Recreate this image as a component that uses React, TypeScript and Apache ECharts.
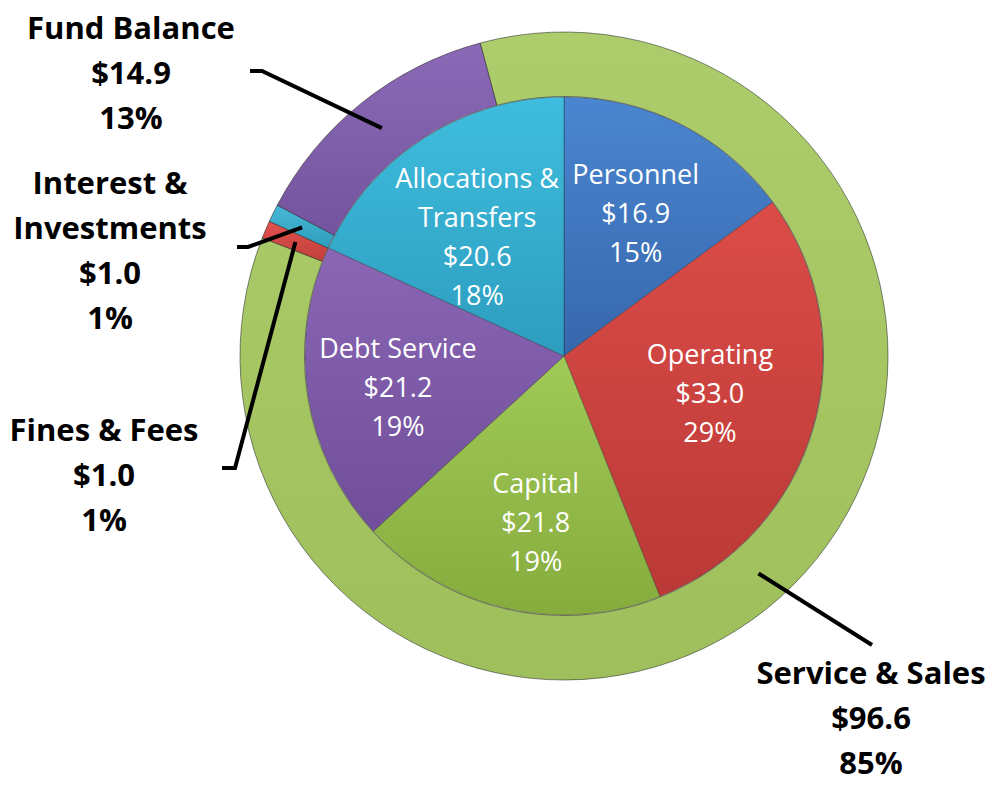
import React, { useEffect, useRef } from 'react';
import * as echarts from 'echarts';

// Inner pie: expenditures
const expenseNames = ['Personnel', 'Operating', 'Capital', 'Debt Service', 'Allocations & Transfers'];
const expenseValues = [16.9, 33.0, 21.8, 21.2, 20.6];
// Outer ring: revenues
const revenueNames = ['Service & Sales', 'Fines & Fees', 'Interest & Investments', 'Fund Balance'];
const revenueValues = [96.6, 1.0, 1.0, 14.9];

const expenseColors = [
  ['#4A86D0', '#3767AC'],
  ['#DB4C48', '#BA3936'],
  ['#A0C957', '#86AC3E'],
  ['#8A66B4', '#704E99'],
  ['#3FBDDE', '#2D9DBF'],
];
const revenueColors = [
  ['#ADCD6C', '#9FBF5C'],
  ['#E0524E', '#C23F3C'],
  ['#46B8D6', '#2F9CBC'],
  ['#8B69B7', '#74549E'],
];

const CX = 564;
const CY = 356;
const PIE_R = 259;
const RING_R0 = 259.5;
const RING_R1 = 324;
const INNER_START = 90;
const RING_START = 105;

const FONT = '"Open Sans", "Noto Sans", sans-serif';

function wrapName(n: string): string {
  return n.length > 16 ? n.replace(' & ', ' &\n') : n;
}

function midPoint(values: number[], index: number, start: number, r: number): number[] {
  const total = values.reduce((a, b) => a + b, 0);
  let cum = 0;
  for (let i = 0; i < index; i++) cum += values[i];
  const a = ((start - ((cum + values[index] / 2) / total) * 360) * Math.PI) / 180;
  return [CX + r * Math.cos(a), CY - r * Math.sin(a)];
}

function grad(c: string[]) {
  return {
    type: 'linear',
    x: 0,
    y: 0,
    x2: 0,
    y2: 1,
    colorStops: [
      { offset: 0, color: c[0] },
      { offset: 1, color: c[1] },
    ],
  };
}

// inner label nudges (layout only)
const innerNudge = [
  [0, -2],
  [-7, -7],
  [7, 10],
  [-9, 6],
  [-1, 14],
];

// outer label placements: text centre and label line elbow points
const outerTextPos = [
  [871, 717],
  [104, 474],
  [110, 249],
  [131, 72],
];
const outerElbows = [
  [[872, 645], [872, 645]],
  [[235, 468], [222, 468]],
  [[248, 247], [237, 247]],
  [[262, 71], [250, 71]],
];

const outerFormatter = (p: any) =>
  `${wrapName(p.name)}\n$${p.value.toFixed(1)}\n${Math.round(p.percent)}%`;

export default function App() {
  const ref = useRef<HTMLDivElement>(null);
  useEffect(() => {
    if (!ref.current) return;
    const chart = echarts.init(ref.current, null, { renderer: 'svg' });
    const option: any = {
      animation: false,
      backgroundColor: '#ffffff',
      series: [
        {
          type: 'pie',
          name: 'Revenues',
          z: 2,
          center: [CX, CY],
          radius: [RING_R0, RING_R1],
          startAngle: RING_START,
          clockwise: true,
          itemStyle: { borderColor: 'rgba(40,40,40,0.55)', borderWidth: 1 },
          label: { show: false },
          labelLine: { show: false },
          emphasis: { disabled: true },
          data: revenueNames.map((n, i) => ({
            name: n,
            value: revenueValues[i],
            itemStyle: { color: grad(revenueColors[i]) },
          })),
        },
        {
          type: 'pie',
          name: 'Expenditures',
          z: 2,
          center: [CX, CY],
          radius: [0, PIE_R],
          startAngle: INNER_START,
          clockwise: true,
          avoidLabelOverlap: false,
          itemStyle: { borderColor: 'rgba(30,30,30,0.35)', borderWidth: 1 },
          label: {
            show: true,
            position: 'inside',
            color: '#ffffff',
            fontFamily: FONT,
            fontSize: 27,
            lineHeight: 39,
            align: 'center',
            formatter: outerFormatter,
          },
          labelLayout: (params: any) => {
            const i = params.dataIndex;
            const pt = midPoint(expenseValues, i, INNER_START, 159);
            return {
              x: pt[0] + innerNudge[i][0],
              y: pt[1] + innerNudge[i][1],
              align: 'center',
              verticalAlign: 'middle',
            };
          },
          labelLine: { show: false },
          emphasis: { disabled: true },
          data: expenseNames.map((n, i) => ({
            name: n,
            value: expenseValues[i],
            itemStyle: { color: grad(expenseColors[i]) },
          })),
        },
        {
          // transparent overlay of the ring carrying its labels and leader lines on top
          type: 'pie',
          name: 'Revenue labels',
          z: 5,
          silent: true,
          center: [CX, CY],
          radius: [RING_R0, RING_R1],
          startAngle: RING_START,
          clockwise: true,
          avoidLabelOverlap: false,
          itemStyle: { color: 'rgba(0,0,0,0)', borderWidth: 0 },
          label: {
            show: true,
            position: 'outside',
            color: '#000',
            fontFamily: FONT,
            fontWeight: 'bold',
            fontSize: 31,
            lineHeight: 45,
            align: 'center',
            formatter: outerFormatter,
          },
          labelLine: { show: true, showAbove: true, lineStyle: { color: '#000', width: 4 }, smooth: false },
          labelLayout: (params: any) => {
            const i = params.dataIndex;
            const p0 = midPoint(revenueValues, i, RING_START, (RING_R0 + RING_R1) / 2);
            return {
              x: outerTextPos[i][0],
              y: outerTextPos[i][1],
              align: 'center',
              verticalAlign: 'middle',
              labelLinePoints: [p0, outerElbows[i][0], outerElbows[i][1]],
            };
          },
          emphasis: { disabled: true },
          data: revenueNames.map((n, i) => ({ name: n, value: revenueValues[i] })),
        },
      ],
    };
    chart.setOption(option);
    return () => chart.dispose();
  }, []);
  return (
    <div
      ref={ref}
      style={{ position: 'fixed', left: 0, top: 0, width: 990, height: 785, background: '#fff' }}
    />
  );
}
